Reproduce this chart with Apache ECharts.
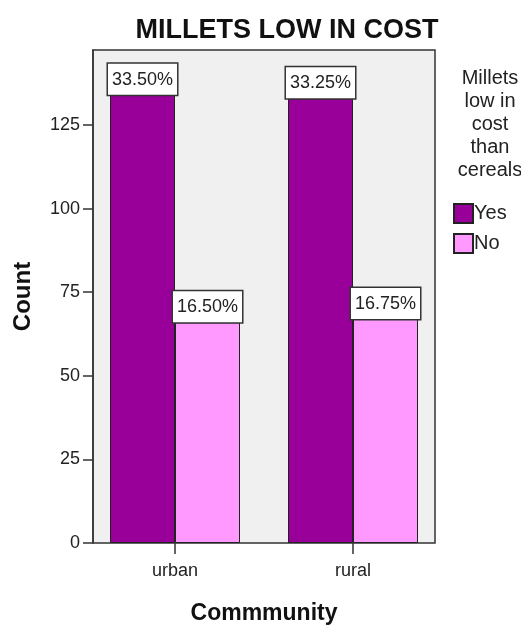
<!DOCTYPE html>
<html>
<head>
<meta charset="utf-8">
<script src="https://cdn.jsdelivr.net/npm/echarts@6/dist/echarts.min.js"></script>
<style>
html,body{margin:0;padding:0;background:#fff;}
#chart{width:521px;height:627px;}
</style>
</head>
<body>
<div id="chart"></div>
<script>
// Data
var categories = ['urban', 'rural'];
var seriesNames = ['Yes', 'No'];
var yesCounts = [134, 133];
var noCounts = [66, 67];
var yTicks = [0, 25, 50, 75, 100, 125];

var total = yesCounts.concat(noCounts).reduce(function (a, b) { return a + b; }, 0);
function pct(v) { return (v / total * 100).toFixed(2) + '%'; }

var FONT = '"Liberation Sans", Arial, sans-serif';
var yMax = 147.4;

var chart = echarts.init(document.getElementById('chart'));

var labelStyle = {
  show: true,
  position: 'top',
  distance: 0,
  formatter: function (p) { return pct(p.value); },
  backgroundColor: '#fff',
  borderColor: '#333',
  borderWidth: 1.5,
  padding: [7, 4, 6, 4],
  fontSize: 18,
  fontFamily: FONT,
  color: '#222'
};

var option = {
  animation: false,
  backgroundColor: '#fff',
  title: [
    {
      text: 'MILLETS LOW IN COST',
      left: 282, top: 12, textAlign: 'center',
      textStyle: { fontSize: 27, fontWeight: 'bold', fontFamily: FONT, color: '#111' }
    },
    {
      text: 'Millets\nlow in\ncost\nthan\ncereals',
      left: 485, top: 62, textAlign: 'center',
      textStyle: { fontSize: 20, fontWeight: 'normal', fontFamily: FONT, color: '#222', lineHeight: 23, align: 'center' }
    }
  ],
  legend: {
    data: seriesNames,
    orient: 'vertical',
    left: 453, top: 203,
    padding: 0,
    icon: 'rect',
    itemWidth: 19, itemHeight: 19, itemGap: 9,
    textStyle: { fontSize: 20, fontFamily: FONT, color: '#222', padding: [0, 0, 0, -4] }
  },
  grid: [
    { left: 93, right: 86, top: 50, bottom: 84, show: true, backgroundColor: '#F0F0F0', borderColor: '#333', borderWidth: 1.5, outerBoundsMode: 'none', containLabel: false },
    { left: 86, right: 79, top: 50, bottom: 84, outerBoundsMode: 'none', containLabel: false }
  ],
  xAxis: [
    { type: 'category', gridIndex: 0, data: categories, show: false },
    {
      type: 'category', gridIndex: 1, data: categories,
      name: 'Commmunity', nameLocation: 'middle', nameGap: 59,
      nameTextStyle: { fontSize: 23, fontWeight: 'bold', fontFamily: FONT, color: '#111' },
      axisLine: { show: false },
      axisTick: { show: true, alignWithLabel: true, length: 11, lineStyle: { color: '#333', width: 1.5 } },
      axisLabel: { fontSize: 18, fontFamily: FONT, color: '#222', margin: 19 }
    }
  ],
  yAxis: [
    {
      type: 'value', gridIndex: 0, min: 0, max: yMax, interval: 25,
      name: 'Count', nameLocation: 'middle', nameGap: 58, nameRotate: 90,
      nameTextStyle: { fontSize: 24, fontWeight: 'bold', fontFamily: FONT, color: '#111' },
      axisLine: { show: true, lineStyle: { color: '#333', width: 1.5 } },
      axisTick: { show: true, length: 10, lineStyle: { color: '#333', width: 1.5 },
        customValues: yTicks },
      axisLabel: { fontSize: 18, fontFamily: FONT, color: '#222', margin: 13,
        customValues: yTicks,
        formatter: function (v) { return yTicks.indexOf(v) >= 0 ? String(v) : ''; } },
      splitLine: { show: false }
    },
    { type: 'value', gridIndex: 1, min: 0, max: yMax, show: false }
  ],
  series: [
    {
      name: seriesNames[0], type: 'bar', xAxisIndex: 1, yAxisIndex: 1,
      data: yesCounts, barWidth: 65, barGap: '0%',
      itemStyle: { color: '#990099', borderColor: '#222', borderWidth: 1 },
      label: labelStyle
    },
    {
      name: seriesNames[1], type: 'bar', xAxisIndex: 1, yAxisIndex: 1,
      data: noCounts, barWidth: 65, barGap: '0%',
      itemStyle: { color: '#FF99FF', borderColor: '#222', borderWidth: 1 },
      label: labelStyle
    }
  ]
};
chart.setOption(option);
</script>
</body>
</html>
